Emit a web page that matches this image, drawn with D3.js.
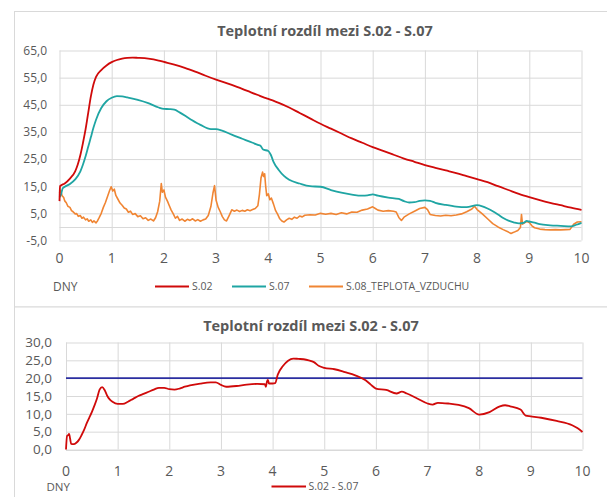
<!DOCTYPE html>
<html>
<head>
<meta charset="utf-8">
<script src="https://cdn.jsdelivr.net/npm/d3@7"></script>
<style>
  body { margin: 0; background: #fff; }
  svg { display: block; font-family: "Open Sans", sans-serif; }
</style>
</head>
<body>
<script>
// --- data ---
const dayTicks = [0, 1, 2, 3, 4, 5, 6, 7, 8, 9, 10];
const topTicks = [65, 55, 45, 35, 25, 15, 5, -5];
const bottomTicks = [0, 5, 10, 15, 20, 25, 30];
const chartTitle = "Teplotní rozdíl mezi S.02 - S.07";
const xLabel = "DNY";
const topSeriesNames = ["S.02", "S.07", "S.08_TEPLOTA_VZDUCHU"];
const bottomSeriesName = "S.02 - S.07";
const limitValue = 20;

const s02Days = [0, 0.01, 0.1, 0.2, 0.3, 0.35, 0.4, 0.45, 0.5, 0.55, 0.6, 0.65, 0.7, 0.8, 0.9, 1.0, 1.1, 1.2, 1.3, 1.4, 1.5, 1.7, 1.9, 2.0, 2.2, 2.4, 2.6, 2.8, 3.0, 3.2, 3.4, 3.6, 3.8, 3.9, 4.0, 4.2, 4.4, 4.6, 4.8, 5.0, 5.2, 5.4, 5.6, 5.8, 6.0, 6.2, 6.4, 6.6, 6.8, 7.0, 7.2, 7.4, 7.6, 7.8, 8.0, 8.2, 8.4, 8.6, 8.8, 9.0, 9.2, 9.4, 9.6, 9.8, 10.0];
const s02Vals = [9.5, 15, 16, 17.8, 20.5, 23, 26.5, 31, 36, 42, 48, 52.5, 55.3, 57.8, 59.5, 60.7, 61.5, 62.0, 62.3, 62.4, 62.3, 62.0, 61.3, 60.8, 59.8, 58.6, 57.2, 55.7, 54.3, 53.0, 51.6, 50.1, 48.6, 47.8, 47.2, 45.7, 44.0, 42.0, 40.0, 38.0, 36.2, 34.4, 32.6, 31.0, 29.4, 28.0, 26.6, 25.2, 24.0, 22.8, 21.8, 20.8, 19.8, 18.7, 17.6, 16.5, 15.0, 13.6, 12.2, 11.0, 9.9, 8.9, 8.0, 7.1, 6.3];

const s07Days = [0, 0.03, 0.06, 0.1, 0.2, 0.3, 0.4, 0.45, 0.5, 0.55, 0.6, 0.65, 0.7, 0.8, 0.9, 1.0, 1.1, 1.2, 1.3, 1.5, 1.7, 1.9, 2.0, 2.1, 2.2, 2.3, 2.5, 2.7, 2.9, 3.0, 3.1, 3.3, 3.5, 3.7, 3.8, 3.85, 3.9, 4.0, 4.05, 4.1, 4.2, 4.3, 4.4, 4.6, 4.8, 5.0, 5.2, 5.4, 5.6, 5.8, 5.9, 6.0, 6.1, 6.3, 6.5, 6.6, 6.7, 6.8, 6.9, 7.0, 7.1, 7.2, 7.4, 7.6, 7.8, 8.0, 8.1, 8.2, 8.3, 8.4, 8.5, 8.6, 8.7, 8.8, 8.9, 8.95, 9.0, 9.1, 9.2, 9.4, 9.6, 9.8, 9.9, 10.0];
const s07Vals = [11.0, 12.0, 14.2, 14.8, 15.8, 17.5, 20.5, 23, 26, 29.5, 33, 36.5, 39.5, 43.8, 46.3, 47.6, 48.2, 48.1, 47.7, 46.8, 45.6, 44.0, 43.5, 43.4, 43.2, 42.2, 39.8, 37.6, 36.0, 36.0, 35.6, 34.0, 32.5, 31.0, 30.2, 29.9, 28.5, 28.0, 26.5, 24.0, 21.0, 18.8, 17.4, 16.0, 15.0, 14.8, 13.6, 12.6, 11.9, 11.5, 11.6, 12.0, 11.5, 10.8, 10.3, 9.5, 9.0, 9.1, 9.6, 9.8, 9.6, 8.9, 8.1, 7.5, 7.3, 8.0, 7.6, 6.8, 5.8, 4.6, 3.3, 2.3, 1.7, 1.3, 1.6, 2.2, 2.0, 1.6, 1.0, 0.6, 0.4, 0.2, 0.8, 1.5];

const s08Days = [0.00, 0.02, 0.05, 0.08, 0.10, 0.13, 0.16, 0.20, 0.23, 0.26, 0.30, 0.33, 0.36, 0.40, 0.43, 0.46, 0.50, 0.53, 0.56, 0.60, 0.63, 0.66, 0.70, 0.73, 0.76, 0.80, 0.84, 0.88, 0.92, 0.96, 0.99, 1.02, 1.05, 1.08, 1.12, 1.16, 1.20, 1.24, 1.28, 1.32, 1.36, 1.40, 1.45, 1.50, 1.55, 1.60, 1.65, 1.70, 1.75, 1.80, 1.84, 1.88, 1.92, 1.95, 1.97, 2.00, 2.03, 2.07, 2.10, 2.14, 2.18, 2.22, 2.26, 2.30, 2.35, 2.40, 2.45, 2.50, 2.55, 2.60, 2.65, 2.70, 2.75, 2.80, 2.85, 2.90, 2.94, 2.97, 3.00, 3.04, 3.08, 3.12, 3.16, 3.20, 3.25, 3.30, 3.35, 3.40, 3.45, 3.50, 3.55, 3.60, 3.65, 3.70, 3.75, 3.80, 3.83, 3.86, 3.89, 3.91, 3.93, 3.95, 3.97, 4.00, 4.03, 4.06, 4.10, 4.14, 4.18, 4.22, 4.26, 4.30, 4.35, 4.40, 4.45, 4.50, 4.55, 4.60, 4.65, 4.70, 4.80, 4.90, 5.00, 5.10, 5.20, 5.30, 5.40, 5.50, 5.60, 5.70, 5.80, 5.90, 6.00, 6.05, 6.10, 6.20, 6.30, 6.40, 6.45, 6.50, 6.55, 6.60, 6.70, 6.80, 6.90, 7.00, 7.05, 7.10, 7.20, 7.30, 7.40, 7.50, 7.60, 7.70, 7.80, 7.90, 7.95, 8.00, 8.10, 8.20, 8.30, 8.40, 8.50, 8.60, 8.65, 8.70, 8.78, 8.83, 8.85, 8.87, 8.90, 8.95, 9.00, 9.05, 9.10, 9.20, 9.30, 9.40, 9.50, 9.60, 9.70, 9.78, 9.85, 9.92, 10.00];
const s08Vals = [12.5, 13.5, 11.5, 10.8, 9.6, 8.9, 7.6, 7.2, 6.0, 5.6, 4.8, 4.9, 3.9, 4.2, 3.2, 3.6, 2.6, 3.0, 2.1, 2.6, 1.7, 2.2, 1.5, 2.3, 3.4, 5.0, 7.2, 9.0, 11.2, 13.4, 14.8, 13.2, 13.9, 11.6, 10.2, 8.8, 8.0, 7.0, 6.6, 5.4, 5.8, 4.6, 4.9, 3.8, 4.1, 3.0, 3.4, 2.4, 2.9, 2.2, 3.4, 5.6, 9.5, 16.0, 12.8, 13.6, 11.0, 9.4, 8.0, 6.2, 4.8, 3.2, 3.9, 2.4, 2.9, 2.1, 2.8, 2.4, 3.0, 2.2, 2.7, 2.1, 2.6, 2.9, 4.2, 7.5, 12.5, 15.2, 9.8, 7.2, 5.6, 3.8, 2.6, 2.2, 4.2, 6.3, 5.8, 6.2, 5.7, 6.1, 5.8, 6.3, 6.0, 6.4, 6.8, 7.8, 12.0, 18.0, 20.2, 18.6, 19.6, 15.0, 11.5, 12.2, 10.0, 10.6, 8.4, 6.0, 4.6, 3.0, 2.2, 1.8, 2.6, 3.2, 2.8, 3.6, 3.2, 4.0, 3.7, 4.3, 4.5, 4.4, 5.0, 4.7, 5.0, 4.6, 5.2, 4.8, 5.5, 5.4, 6.2, 6.6, 7.4, 6.8, 6.2, 5.8, 6.0, 5.8, 5.5, 3.5, 2.4, 3.6, 4.8, 5.8, 6.8, 7.2, 6.4, 4.6, 4.2, 4.0, 4.3, 4.1, 4.4, 4.8, 5.6, 6.6, 7.6, 6.4, 4.8, 3.0, 1.2, 0.0, -1.0, -1.9, -2.4, -2.0, -1.3, -0.2, 4.6, 1.0, 1.4, 2.0, 1.6, 0.4, -0.3, -0.8, -1.0, -1.1, -1.0, -1.1, -1.0, -0.9, 1.0, 1.8, 1.9];

const diffDays = [0, 0.02, 0.04, 0.06, 0.08, 0.1, 0.15, 0.2, 0.25, 0.3, 0.35, 0.4, 0.45, 0.5, 0.55, 0.6, 0.65, 0.7, 0.75, 0.8, 0.85, 0.9, 1.0, 1.1, 1.2, 1.3, 1.4, 1.5, 1.6, 1.7, 1.8, 1.9, 2.0, 2.1, 2.2, 2.3, 2.4, 2.6, 2.8, 2.9, 3.0, 3.1, 3.3, 3.5, 3.7, 3.85, 3.87, 3.89, 3.91, 3.93, 4.0, 4.05, 4.1, 4.2, 4.3, 4.4, 4.5, 4.6, 4.7, 4.8, 4.9, 5.0, 5.2, 5.4, 5.6, 5.8, 5.9, 6.0, 6.2, 6.4, 6.5, 6.6, 6.8, 7.0, 7.1, 7.2, 7.4, 7.6, 7.8, 8.0, 8.2, 8.4, 8.5, 8.6, 8.8, 8.9, 9.0, 9.2, 9.5, 9.8, 9.9, 10.0];
const diffVals = [0, 3.8, 4.0, 4.4, 3.0, 1.6, 1.5, 1.9, 2.7, 4.0, 5.5, 7.3, 8.9, 10.5, 12.3, 14.3, 16.8, 17.5, 16.6, 15.0, 14.0, 13.4, 12.8, 12.8, 13.4, 14.2, 15.0, 15.6, 16.2, 16.8, 17.3, 17.3, 16.9, 16.8, 17.1, 17.6, 18.0, 18.5, 18.8, 18.8, 18.1, 17.6, 17.8, 18.2, 18.4, 18.3, 17.6, 19.0, 19.5, 18.5, 18.5, 18.6, 21.0, 23.4, 24.9, 25.5, 25.4, 25.3, 25.0, 24.5, 23.4, 22.9, 22.5, 21.7, 20.8, 19.4, 18.2, 17.1, 16.7, 15.7, 16.2, 15.7, 14.3, 12.9, 12.6, 13.1, 12.9, 12.5, 11.6, 9.8, 10.5, 12.1, 12.4, 12.1, 11.2, 9.5, 9.3, 8.9, 8.0, 6.8, 6.0, 4.9];

// --- drawing ---
const W = 607, H = 497;
const textColor = "#595959";
const gridColor = "#d9d9d9";
const fmt = d3.formatLocale({ decimal: ",", thousands: " ", grouping: [3], currency: ["", ""], minus: "-" }).format(".1f");

const svg = d3.select("body").append("svg")
    .attr("width", W)
    .attr("height", H);

// chart frames
svg.append("rect")
    .attr("x", 14.5).attr("y", 11.5)
    .attr("width", 640).attr("height", 295.5)
    .attr("fill", "#fff").attr("stroke", gridColor);
svg.append("rect")
    .attr("x", 14.5).attr("y", 307)
    .attr("width", 640).attr("height", 220)
    .attr("fill", "#fff").attr("stroke", gridColor);

function drawPanel(opt) {
    const x = d3.scaleLinear().domain([0, 10]).range(opt.xRange);
    const y = d3.scaleLinear().domain(opt.yDomain).range(opt.yRange);
    const g = svg.append("g");

    // gridlines
    g.append("g")
        .attr("transform", `translate(0,${opt.yRange[0]})`)
        .call(d3.axisBottom(x).tickValues(dayTicks).tickSize(opt.yRange[1] - opt.yRange[0]).tickFormat(""))
        .call(s => s.select(".domain").remove())
        .call(s => s.selectAll("line").attr("stroke", gridColor));
    g.append("g")
        .attr("transform", `translate(${opt.xRange[0]},0)`)
        .call(d3.axisRight(y).tickValues(opt.yTicks).tickSize(opt.xRange[1] - opt.xRange[0]).tickFormat(""))
        .call(s => s.select(".domain").remove())
        .call(s => s.selectAll("line").attr("stroke", gridColor));
    // zero axis line
    g.append("line")
        .attr("x1", opt.xRange[0]).attr("x2", opt.xRange[1])
        .attr("y1", Math.round(y(0)) + 0.5).attr("y2", Math.round(y(0)) + 0.5)
        .attr("stroke", gridColor);

    // y tick labels
    g.append("g")
        .attr("transform", `translate(${opt.yLabelX},0)`)
        .call(d3.axisLeft(y).tickValues(opt.yTicks).tickSize(0).tickPadding(0).tickFormat(fmt))
        .call(s => s.select(".domain").remove())
        .call(s => s.selectAll("text")
            .attr("fill", textColor)
            .style("font-size", opt.yFont + "px")
            .style("font-family", "Open Sans"));

    // x tick labels
    g.append("g")
        .selectAll("text")
        .data(dayTicks)
        .enter()
        .append("text")
        .attr("x", d => x(d))
        .attr("y", opt.xLabelY)
        .attr("text-anchor", "middle")
        .attr("fill", textColor)
        .style("font-size", opt.xFont + "px")
        .text(d => d);

    // title
    svg.append("text")
        .attr("x", opt.titleX)
        .attr("y", opt.titleY)
        .attr("text-anchor", "middle")
        .attr("fill", textColor)
        .style("font-size", "14.5px")
        .style("font-weight", "bold")
        .text(chartTitle);

    // axis name
    svg.append("text")
        .attr("x", opt.dnyX)
        .attr("y", opt.dnyY)
        .attr("fill", textColor)
        .style("font-size", opt.dnyFont + "px")
        .text(xLabel);

    return { x, y, g };
}

// top panel
const topPanel = drawPanel({
    xRange: [59.5, 581.5], yDomain: [-5, 65], yRange: [240.5, 50.5],
    yTicks: topTicks, yLabelX: 47, yFont: 12,
    xLabelY: 263, xFont: 14,
    titleX: 325, titleY: 35.5,
    dnyX: 53, dnyY: 291, dnyFont: 12
});

const topSeries = [
    { name: topSeriesNames[0], days: s02Days, vals: s02Vals, color: "#d00a0a", width: 1.8, curve: d3.curveMonotoneX },
    { name: topSeriesNames[1], days: s07Days, vals: s07Vals, color: "#1fa5a3", width: 1.8, curve: d3.curveMonotoneX },
    { name: topSeriesNames[2], days: s08Days, vals: s08Vals, color: "#f08533", width: 1.6, curve: d3.curveLinear }
];

// orange at the back, red and teal over it
[topSeries[2], topSeries[1], topSeries[0]].forEach(s => {
    topPanel.g.append("path")
        .datum(s.vals)
        .attr("d", d3.line()
            .x((d, i) => topPanel.x(s.days[i]))
            .y(d => topPanel.y(d))
            .curve(s.curve))
        .attr("fill", "none")
        .attr("stroke", s.color)
        .attr("stroke-width", s.width)
        .attr("stroke-linejoin", "round");
});

// top legend
const legendX = [155, 232, 309];
topSeries.forEach((s, i) => {
    svg.append("line")
        .attr("x1", legendX[i]).attr("x2", legendX[i] + 34)
        .attr("y1", 286.5).attr("y2", 286.5)
        .attr("stroke", s.color).attr("stroke-width", 2);
    svg.append("text")
        .attr("x", legendX[i] + 37)
        .attr("y", 290.3)
        .attr("fill", textColor)
        .style("font-size", "10.5px")
        .text(s.name);
});

// bottom panel
const botPanel = drawPanel({
    xRange: [66, 582.5], yDomain: [0, 30], yRange: [449.5, 342.5],
    yTicks: bottomTicks, yLabelX: 52, yFont: 13.5,
    xLabelY: 475.5, xFont: 14,
    titleX: 311, titleY: 330.5,
    dnyX: 46.5, dnyY: 491, dnyFont: 11.5
});

// limit line
botPanel.g.append("line")
    .attr("x1", botPanel.x(0)).attr("x2", botPanel.x(10))
    .attr("y1", botPanel.y(limitValue)).attr("y2", botPanel.y(limitValue))
    .attr("stroke", "#2b2ea0").attr("stroke-width", 1.6);

botPanel.g.append("path")
    .datum(diffVals)
    .attr("d", d3.line()
        .x((d, i) => botPanel.x(diffDays[i]))
        .y(d => botPanel.y(d))
        .curve(d3.curveMonotoneX))
    .attr("fill", "none")
    .attr("stroke", "#d00a0a")
    .attr("stroke-width", 1.8)
    .attr("stroke-linejoin", "round");

// bottom legend
svg.append("line")
    .attr("x1", 271.5).attr("x2", 306)
    .attr("y1", 486.5).attr("y2", 486.5)
    .attr("stroke", "#d00a0a").attr("stroke-width", 2);
svg.append("text")
    .attr("x", 308.5)
    .attr("y", 490.3)
    .attr("fill", textColor)
    .style("font-size", "10.5px")
    .text(bottomSeriesName);
</script>
</body>
</html>
